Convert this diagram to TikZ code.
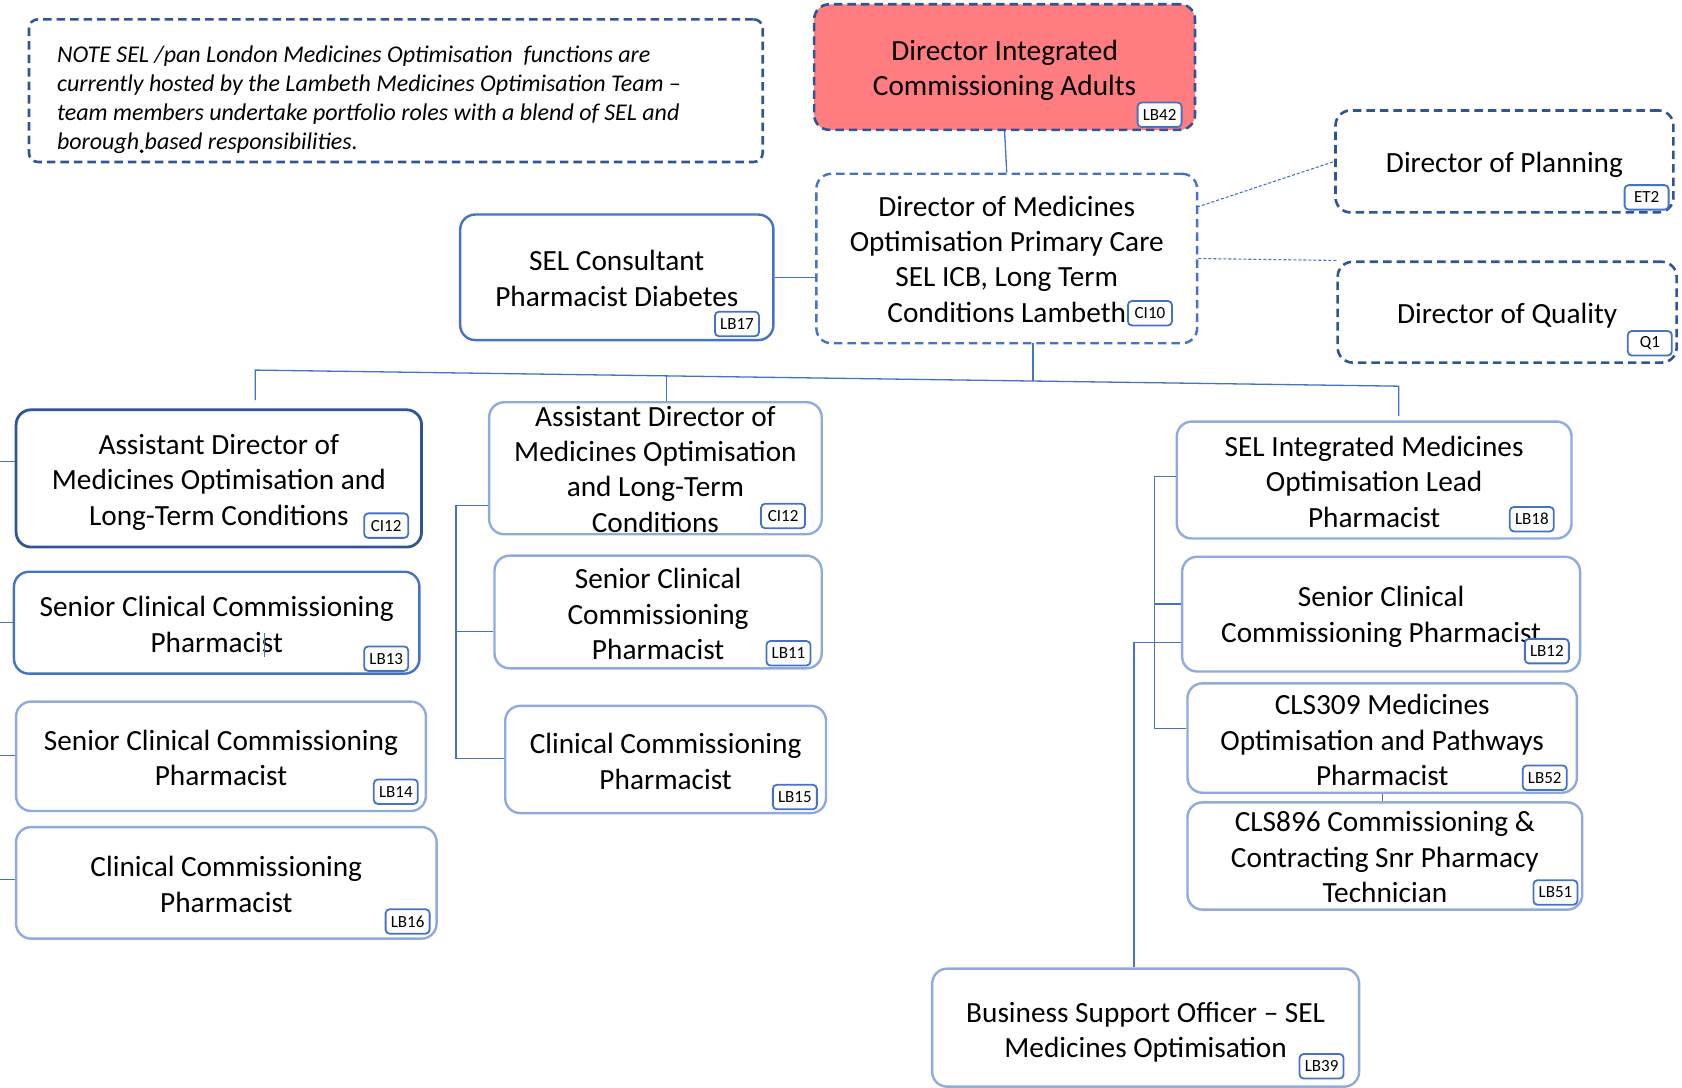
\documentclass[tikz,border=0pt]{standalone}
\usepackage{fontspec}
\setmainfont{Carlito}
\usetikzlibrary{calc}
\definecolor{dkblue}{HTML}{2F5597}
\definecolor{mdblue}{HTML}{4472C4}
\definecolor{ltblue}{HTML}{8FAADC}
\definecolor{pinkfill}{HTML}{FF7C80}
\def\u{1.0727pt}
\tikzset{
  boxtext/.style={align=center, inner sep=0pt, font=\fontsize{29.3}{35.4}\selectfont},
  dashdk/.style={draw=dkblue, dash pattern=on 8.5pt off 5pt, line width=2.6pt, rounded corners=15pt},
  dashmd/.style={draw=mdblue, dash pattern=on 8.5pt off 5pt, line width=2.4pt, rounded corners=15pt},
  solidmd/.style={draw=mdblue, line width=2.4pt, rounded corners=15pt},
  soliddk/.style={draw=dkblue, line width=2.8pt, rounded corners=15pt},
  solidlt/.style={draw=ltblue, line width=2.4pt, rounded corners=15pt},
  conn/.style={draw=mdblue, line width=1.3pt},
  dotconn/.style={draw=mdblue, line width=1.1pt, dash pattern=on 3pt off 2pt},
  tag/.style={draw=mdblue, line width=1.8pt, rounded corners=4pt, fill=white, font=\fontsize{17}{17}\selectfont, inner xsep=3pt, inner ysep=2pt, minimum height=24.5pt, minimum width=44pt},
  notefont/.style={font=\itshape\fontsize{24}{29}\selectfont, align=left, inner sep=0pt}
}
% #1 style, #2 name, #3 x, #4 y, #5 width, #6 height, #7 text dy, #8 text
\newcommand\orgbox[8]{%
  \node[#1, minimum width=#5*\u, minimum height=#6*\u, inner sep=0pt] (#2) at (#3,#4) {};
  \node[boxtext] (#2-t) at ($(#2)+(0,#7)$) {#8};
}
\begin{document}
\begin{tikzpicture}[x=1.0727pt, y=-1.0727pt]
\useasboundingbox (0,0) rectangle (1568,1014);

% note
\node[dashdk, rounded corners=9pt, minimum width=684*\u, minimum height=133*\u, inner sep=0pt] (note) at (369,84.5) {};
\node[notefont, anchor=west] (notetext) at (53,92.5) {NOTE SEL /pan London Medicines Optimisation\ \ functions are\\currently hosted by the Lambeth Medicines Optimisation Team –\\team members undertake portfolio roles with a blend of SEL and\\borough based responsibilities.};
\fill (132,141) circle (1.8);

% top
\orgbox{dashdk, fill=pinkfill}{DI}{936.5}{62.5}{355}{117}{3}{Director Integrated\\Commissioning Adults}
\orgbox{dashmd}{DMO}{938.5}{241}{355}{158}{0.5}{Director of Medicines\\Optimisation Primary Care\\SEL ICB, Long Term\\Conditions Lambeth}
\orgbox{dashdk}{PLAN}{1402.5}{150.5}{315}{95}{3}{Director of Planning}
\orgbox{dashdk}{QUAL}{1405}{291}{316}{94}{3.5}{Director of Quality}
\orgbox{solidmd}{SELC}{575}{258.5}{292}{117}{1}{SEL Consultant\\Pharmacist Diabetes}

% left column
\orgbox{soliddk}{AD1}{204}{446}{378}{128}{3.5}{Assistant Director of\\Medicines Optimisation and\\Long-Term Conditions}
\orgbox{solidmd}{L13}{202}{580.5}{378}{95}{1.5}{Senior Clinical Commissioning\\Pharmacist}
\orgbox{solidlt}{L14}{206}{705}{382}{102}{1.5}{Senior Clinical Commissioning\\Pharmacist}
\orgbox{solidlt}{L16}{211}{823}{392}{104}{1.5}{Clinical Commissioning\\Pharmacist}

% middle column
\orgbox{solidlt}{AD2}{611}{436.5}{310}{123}{1}{Assistant Director of\\Medicines Optimisation\\and Long-Term\\Conditions}
\orgbox{solidlt}{L11}{613.5}{570.5}{305}{105}{2}{Senior Clinical\\Commissioning\\Pharmacist}
\orgbox{solidlt}{L15}{620.5}{708}{299}{100}{2}{Clinical Commissioning\\Pharmacist}

% right column
\orgbox{solidlt}{L18}{1281}{447.5}{368}{109}{1.5}{SEL Integrated Medicines\\Optimisation Lead\\Pharmacist}
\orgbox{solidlt}{L12}{1287.5}{572.5}{371}{107}{2.5}{Senior Clinical\\Commissioning Pharmacist}
\orgbox{solidlt}{L52}{1288.5}{688}{363}{102}{2}{CLS309 Medicines\\Optimisation and Pathways\\Pharmacist}
\orgbox{solidlt}{L51}{1291}{798}{368}{100}{1.3}{\fontsize{29.3}{33.3}\selectfont CLS896 Commissioning \&\\Contracting Snr Pharmacy\\Technician}
\orgbox{solidlt}{L39}{1068}{958}{398}{110}{4.5}{Business Support Officer – SEL\\Medicines Optimisation}

% connectors
\draw[conn] (DI.south) -- (DMO.north);
\draw[conn] (SELC.east) -- (SELC.east -| DMO.west);
\coordinate (dp) at (1116,193);
\draw[dotconn] (dp) -- (PLAN.west);
\draw[dotconn] (DMO.east) -- (QUAL.north west);

\coordinate (bL) at (238,345);
\coordinate (bR) at (1304,360);
\coordinate (bM) at (963,355.2);
\coordinate (bMt) at (963,320);
\coordinate (bC) at (621,350.4);
\coordinate (bLd) at (238,373);
\coordinate (bRd) at (1304,388);
\draw[conn] (bMt) -- (bM);
\draw[conn] (bLd) -- (bL) -- (bR) -- (bRd);
\draw[conn] (bC) -- (bC |- AD2.north);

% left stubs
\coordinate (lA) at (0,430);
\coordinate (lB) at (0,580);
\coordinate (lC) at (0,704);
\coordinate (lD) at (0,820);
\draw[conn] (lA) -- (lA -| AD1.west);
\draw[conn] (lB) -- (lB -| L13.west);
\draw[conn] (lC) -- (lC -| L14.west);
\draw[conn] (lD) -- (lD -| L16.west);

% middle bracket
\coordinate (mT) at (425,471);
\coordinate (mM) at (425,589);
\coordinate (mB) at (425,707);
\draw[conn] (mT -| AD2.west) -- (mT) -- (mB) -- (mB -| L15.west);
\draw[conn] (mM) -- (mM -| L11.west);

% right bracket
\coordinate (rT) at (1076,444);
\coordinate (rM) at (1076,563);
\coordinate (rB) at (1076,679);
\draw[conn] (rT -| L18.west) -- (rT) -- (rB) -- (rB -| L52.west);
\draw[conn] (rM) -- (rM -| L12.west);
\coordinate (bs) at (1057,599);
\draw[conn] (bs -| L12.west) -- (bs) -- (bs |- L39.north);
\draw[conn] (L52.south) -- (L52.south |- L51.north);

% stray mark in LB13
\draw[mdblue, line width=1pt] (247,590) -- (247,612);

% tags
\node[tag] (tDI) at (1081,107) {LB42};
\node[tag] (tDMO) at (1072,292) {CI10};
\node[tag] (tPLAN) at (1535,184) {ET2};
\node[tag] (tQUAL) at (1538,320) {Q1};
\node[tag] (tSELC) at (687,302) {LB17};
\node[tag] (tAD1) at (360,490) {CI12};
\node[tag] (tL13) at (360,614) {LB13};
\node[tag] (tL14) at (369,738) {LB14};
\node[tag] (tL16) at (380,859) {LB16};
\node[tag] (tAD2) at (730,481) {CI12};
\node[tag] (tL11) at (735,609) {LB11};
\node[tag] (tL15) at (741,743) {LB15};
\node[tag] (tL18) at (1428,484) {LB18};
\node[tag] (tL12) at (1442,607) {LB12};
\node[tag] (tL52) at (1440,725) {LB52};
\node[tag] (tL51) at (1450,832) {LB51};
\node[tag] (tL39) at (1232,994) {LB39};
\end{tikzpicture}
\end{document}
